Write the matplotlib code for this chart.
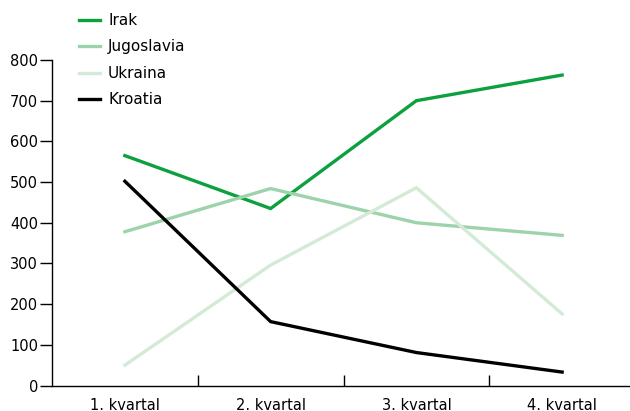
import matplotlib
matplotlib.use("Agg")
import matplotlib.pyplot as plt
from matplotlib.ticker import FixedLocator

# quarterly values per country
quarters = ['1. kvartal', '2. kvartal', '3. kvartal', '4. kvartal']
irak = [565, 435, 700, 763]
jugoslavia = [378, 484, 400, 369]
ukraina = [50, 296, 486, 176]
kroatia = [502, 157, 81, 33]

series = [
    ('Irak', irak, '#0ca03e'),
    ('Jugoslavia', jugoslavia, '#9dd3ab'),
    ('Ukraina', ukraina, '#d3ebd6'),
    ('Kroatia', kroatia, '#000000'),
]

plt.rcParams['font.family'] = ['DejaVu Sans']

fig = plt.figure(figsize=(6.3, 4.11), dpi=100)
ax = fig.add_axes([52 / 630, 25.5 / 411, 583 / 630, 325.5 / 411])

x = range(len(quarters))
for name, vals, col in series:
    ax.plot(x, vals, color=col, lw=2.4, label=name, solid_joinstyle='miter')

ax.set_xlim(-0.5, len(quarters) - 0.5)
ax.set_ylim(0, 800)
ax.set_yticks(range(0, 801, 100))
ax.set_xticks(list(x))
ax.set_xticklabels(quarters)
ax.xaxis.set_minor_locator(FixedLocator([0.5, 1.5, 2.5]))

ax.tick_params(axis='x', which='major', length=0, pad=9, labelsize=10.5)
ax.tick_params(axis='x', which='minor', direction='in', length=8, width=1)
ax.tick_params(axis='y', direction='out', length=9, width=1, pad=1, labelsize=10.5)

for side in ['top', 'right']:
    ax.spines[side].set_visible(False)
for side in ['left', 'bottom']:
    ax.spines[side].set_linewidth(1)

leg = ax.legend(loc='upper left', bbox_to_anchor=(79 / 630, 1 - 13 / 411),
                bbox_transform=fig.transFigure, frameon=False, fontsize=11,
                handlelength=1.4, handletextpad=0.5, labelspacing=0.75,
                borderpad=0, borderaxespad=0)

fig.savefig('out.png', dpi=100)
